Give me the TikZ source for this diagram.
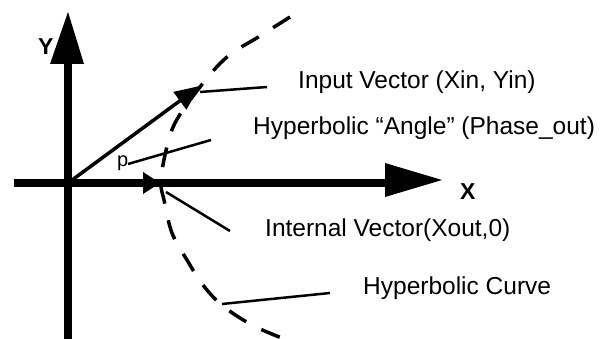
\documentclass[tikz,border=0pt]{standalone}
\usepackage{fontspec}
\setmainfont{Liberation Sans}
\begin{document}
\begin{tikzpicture}[x=1pt,y=-1pt,
  lbl/.style={anchor=base west,inner sep=0pt,font=\fontsize{24.5}{28}\selectfont},
  axlbl/.style={anchor=base west,inner sep=0pt,font=\fontsize{23}{26}\selectfont\bfseries},
  leader/.style={line width=2.5pt},
  axisline/.style={line width=8.5pt},
  vec/.style={line width=3.5pt},
  hcurve/.style={line width=3.5pt,dash pattern=on 20pt off 17pt}]
\useasboundingbox (0,0) rectangle (607,339);
% key points
\coordinate (O) at (68,183);
\coordinate (ybot) at (68,339);
\coordinate (ybase) at (68,60);
\coordinate (ytip) at (68,12);
\coordinate (xleft) at (14,183);
\coordinate (xbase) at (388,183);
\coordinate (xtip) at (442,180);
\coordinate (intip) at (200,86);
\coordinate (inbase) at (181,100);
\coordinate (outtip) at (160,183);
% axes
\draw[axisline] (ybot) -- (ybase);
\fill (ytip) -- (50,64) -- (84,64) -- cycle;
\draw[axisline] (xleft) -- (xbase);
\fill (xtip) -- (385,163) -- (385,197) -- cycle;
% hyperbolic curve
\draw[hcurve] plot[smooth,tension=0.6] coordinates {(290,17) (260,36) (227,57) (200,87) (175,123) (165,155) (161,183) (164,200) (172,233) (187,260) (203,285) (223,306) (254,326) (292,342)};
% input vector
\draw[vec] (O) -- (inbase);
\fill (intip) -- (173.3,91.9) -- (186.4,109.7) -- cycle;
% internal vector arrowhead
\fill (outtip) -- (143,172) -- (143,194) -- cycle;
% labels
\node[axlbl] (ylbl) at (38,55) {Y};
\node[axlbl] (xlbl) at (460,200) {X};
\node[anchor=base west,inner sep=0pt,font=\fontsize{20}{24}\selectfont] (rho) at (117,167) {p};
\node[lbl] (inlbl) at (298,89) {Input Vector (Xin, Yin)};
\node[lbl] (anglbl) at (253,135) {Hyperbolic “Angle” (Phase\_out)};
\node[lbl] (intlbl) at (265,236) {Internal Vector(Xout,0)};
\node[lbl] (curvlbl) at (363,294) {Hyperbolic Curve};
% leaders
\coordinate (l1a) at (200,92); \coordinate (l1b) at (267,87);
\coordinate (l2a) at (128,164); \coordinate (l2b) at (211,140);
\coordinate (l3a) at (166,192); \coordinate (l3b) at (230,231);
\coordinate (l4a) at (222,304); \coordinate (l4b) at (330,293);
\draw[leader] (l1a) -- (l1b);
\draw[leader] (l2a) -- (l2b);
\draw[leader] (l3a) -- (l3b);
\draw[leader] (l4a) -- (l4b);
\end{tikzpicture}
\end{document}
